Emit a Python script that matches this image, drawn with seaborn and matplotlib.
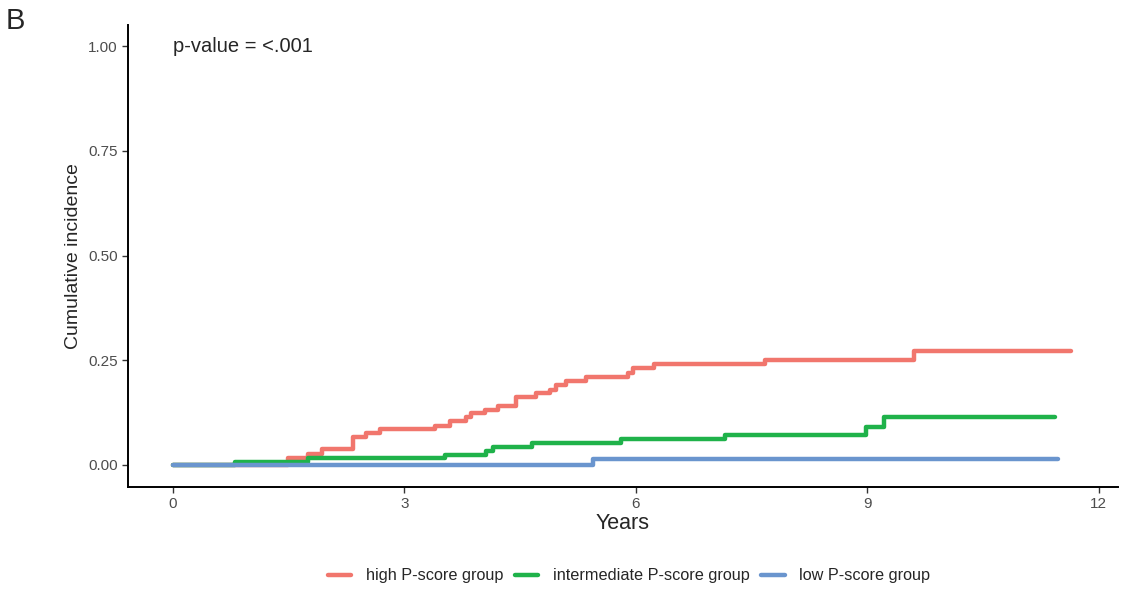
import pandas as pd
import matplotlib
matplotlib.use("Agg")
import matplotlib.pyplot as plt
import seaborn as sns

# step times (years) and cumulative incidence
high_t = [0, 1.49, 1.75, 1.93, 2.34, 2.51, 2.68, 3.40, 3.59, 3.80, 3.87, 4.04, 4.22,
          4.45, 4.71, 4.89, 4.97, 5.10, 5.36, 5.90, 5.97, 6.23, 7.68, 9.60, 11.64]
high_y = [0, 0.017, 0.026, 0.038, 0.067, 0.076, 0.086, 0.094, 0.105, 0.115, 0.124, 0.131, 0.141,
          0.163, 0.172, 0.179, 0.190, 0.201, 0.211, 0.220, 0.231, 0.240, 0.251, 0.273, 0.273]

mid_t = [0, 0.80, 1.75, 3.53, 4.06, 4.15, 4.65, 5.81, 7.15, 8.98, 9.22, 11.43]
mid_y = [0, 0.008, 0.017, 0.024, 0.034, 0.042, 0.052, 0.061, 0.071, 0.091, 0.114, 0.114]

low_t = [0, 5.45, 11.47]
low_y = [0, 0.015, 0.015]

groups = ["high P-score group", "intermediate P-score group", "low P-score group"]
colors = ["#F1766D", "#1FB24A", "#6A95CE"]

df = pd.concat([
    pd.DataFrame({"time": high_t, "cuminc": high_y, "group": groups[0]}),
    pd.DataFrame({"time": mid_t, "cuminc": mid_y, "group": groups[1]}),
    pd.DataFrame({"time": low_t, "cuminc": low_y, "group": groups[2]}),
])

sns.set_theme(style="ticks")
plt.rcParams["font.family"] = ["Liberation Sans", "DejaVu Sans"]

fig = plt.figure(figsize=(11.24, 5.96), dpi=100)
ax = fig.add_axes([0.1139, 0.1829, 0.8808, 0.775])

sns.lineplot(data=df, x="time", y="cuminc", hue="group", hue_order=groups,
             palette=colors, drawstyle="steps-post", estimator=None, sort=False,
             linewidth=3.2, ax=ax)

ax.set_xlim(-0.58, 12.25)
ax.set_ylim(-0.0525, 1.05)
ax.set_xticks([0, 3, 6, 9, 12])
ax.set_yticks([0, 0.25, 0.5, 0.75, 1.0])
ax.set_yticklabels(["0.00", "0.25", "0.50", "0.75", "1.00"])
ax.tick_params(labelsize=11, labelcolor="#4D4D4D", color="#333333", length=4, width=1)
ax.set_xlabel("Years", fontsize=15.5, labelpad=1)
ax.set_ylabel("Cumulative incidence", fontsize=14, labelpad=4)
for s in ["left", "bottom"]:
    ax.spines[s].set_linewidth(1.4)
    ax.spines[s].set_color("black")
sns.despine(ax=ax)

ax.text(0, 1.0, "p-value = <.001", fontsize=14.5, ha="left", va="center")
fig.text(0.005, 0.965, "B", fontsize=21, ha="left", va="center")

# legend centred under the panel, like ggplot's bottom legend
ax.legend(loc="center", bbox_to_anchor=(0.5596, 0.034), bbox_transform=fig.transFigure,
          ncol=3, frameon=False, fontsize=11.7, handlelength=1.45, columnspacing=0.7,
          handletextpad=0.9)

fig.savefig("out.png", dpi=100)
